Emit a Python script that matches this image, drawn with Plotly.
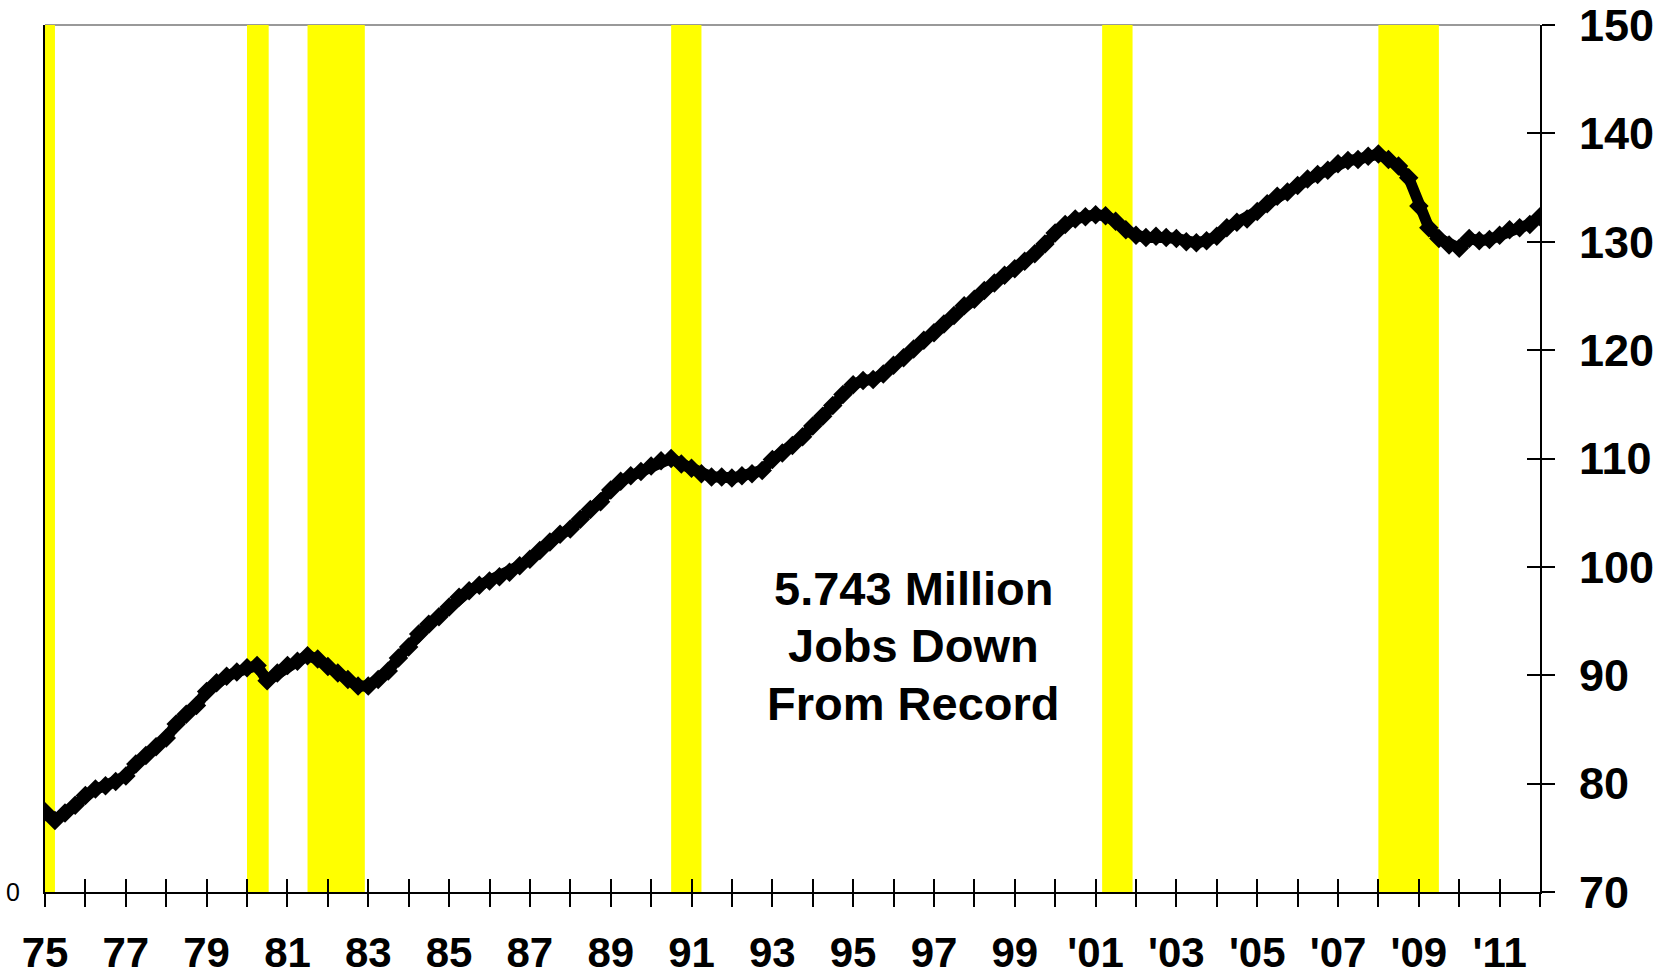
import plotly.graph_objects as go
import pandas as pd

# Nonfarm payrolls (millions), first month of each quarter, 1975Q1 .. 2012Q1
jobs_70s = [77.4, 76.6, 77.3, 78.0,   # 1975
            78.9, 79.5, 79.8, 80.2,   # 1976
            80.7, 81.8, 82.6, 83.4,   # 1977
            84.2, 85.5, 86.4, 87.2,   # 1978
            88.5, 89.3, 89.9, 90.3]   # 1979
jobs_80s = [90.7, 90.9, 89.5, 90.2,   # 1980
            90.9, 91.3, 91.8, 91.5,   # 1981
            90.8, 90.2, 89.6, 89.0,   # 1982
            89.0, 89.6, 90.4, 91.6,   # 1983
            92.6, 93.8, 94.7, 95.4,   # 1984
            96.3, 97.2, 97.8, 98.3,   # 1985
            98.7, 99.1, 99.5, 100.1,  # 1986
            100.7, 101.5, 102.3, 103.0,  # 1987
            103.5, 104.4, 105.3, 106.0,  # 1988
            107.1, 107.9, 108.4, 108.8]  # 1989
jobs_90s = [109.3, 109.8, 110.0, 109.5,  # 1990
            109.1, 108.6, 108.3, 108.3,  # 1991
            108.2, 108.4, 108.6, 108.9,  # 1992
            109.9, 110.5, 111.2, 112.0,  # 1993
            113.0, 113.9, 114.9, 115.9,  # 1994
            116.8, 117.2, 117.3, 117.8,  # 1995
            118.6, 119.3, 120.1, 120.9,  # 1996
            121.6, 122.4, 123.2, 124.1,  # 1997
            124.7, 125.5, 126.2, 126.9,  # 1998
            127.5, 128.2, 128.9, 129.8]  # 1999
jobs_00s = [130.8, 131.6, 132.1, 132.3,  # 2000
            132.5, 132.4, 131.9, 131.1,  # 2001
            130.6, 130.4, 130.5, 130.4,  # 2002
            130.3, 130.0, 129.9, 130.1,  # 2003
            130.5, 131.3, 131.8, 132.1,  # 2004
            132.8, 133.5, 134.2, 134.6,  # 2005
            135.2, 135.8, 136.2, 136.6,  # 2006
            137.2, 137.5, 137.6, 137.9,  # 2007
            138.1, 137.6, 137.0, 135.9,  # 2008
            133.3, 131.3, 130.3, 129.7]  # 2009
jobs_10s = [129.4, 130.3, 130.1, 130.2,  # 2010
            130.6, 131.1, 131.3, 131.6,  # 2011
            132.3]                       # 2012

jobs = jobs_70s + jobs_80s + jobs_90s + jobs_00s + jobs_10s
dates = pd.date_range("1975-01-01", periods=len(jobs), freq="QS")

# recession shading (start, end)
rec_start = ["1975-01-01", "1980-01-01", "1981-07-01", "1990-07-01", "2001-03-01", "2008-01-01"]
rec_end = ["1975-04-01", "1980-07-15", "1982-12-01", "1991-04-01", "2001-12-01", "2009-07-01"]

note_lines = ["5.743 Million", "Jobs Down", "From Record"]
note_y = [98.0, 92.7, 87.35]

years = list(range(1975, 2013))
tick_vals = ["%d-01-01" % y for y in years]
tick_text = []
for y in years:
    if y % 2 == 1:
        tick_text.append(str(y)[2:] if y < 2000 else "'" + str(y)[2:])
    else:
        tick_text.append("")

font_fam = "Arial, Liberation Sans, sans-serif"

fig = go.Figure()

fig.add_trace(go.Scatter(
    x=dates, y=jobs, mode="lines+markers",
    line=dict(color="black", width=11),
    marker=dict(symbol="diamond", size=15, color="black"),
    showlegend=False, xaxis="x", yaxis="y"))

# dummy traces so the overlay axes are drawn
fig.add_trace(go.Scatter(x=[], y=[], xaxis="x2", yaxis="y2", showlegend=False, hoverinfo="skip"))
fig.add_trace(go.Scatter(x=[], y=[], xaxis="x", yaxis="y3", showlegend=False, hoverinfo="skip"))

shapes = [dict(type="line", xref="paper", yref="paper", x0=0, x1=1, y0=1, y1=1,
               line=dict(color="#999999", width=2), layer="below")]
for s, e in zip(rec_start, rec_end):
    shapes.append(dict(type="rect", xref="x", yref="paper", x0=s, x1=e, y0=0, y1=1,
                       fillcolor="#FFFF00", line=dict(width=0), layer="below"))

annotations = []
for txt, yy in zip(note_lines, note_y):
    annotations.append(dict(x="1996-07-01", y=yy, xref="x", yref="y",
                            text="<b>" + txt + "</b>", showarrow=False,
                            font=dict(size=47, family=font_fam, color="black")))

xr = ["1975-01-01", "2012-01-01"]

fig.update_layout(
    width=1674, height=976,
    margin=dict(l=45, r=134, t=25, b=84, autoexpand=False),
    paper_bgcolor="white", plot_bgcolor="white",
    font=dict(family=font_fam, color="black"),
    shapes=shapes,
    annotations=annotations,
    xaxis=dict(type="date", range=xr, tickvals=tick_vals, ticktext=tick_text,
               ticks="outside", ticklen=13, tickwidth=2, tickcolor="black",
               showline=True, linecolor="black", linewidth=2, showgrid=False, zeroline=False,
               tickfont=dict(size=42, family=font_fam, weight="bold"),
               ticklabelstandoff=10, automargin=False),
    xaxis2=dict(type="date", range=xr, overlaying="x", anchor="y", tickvals=tick_vals,
                ticks="inside", ticklen=13, tickwidth=2, tickcolor="black",
                showticklabels=False, showline=False, showgrid=False, zeroline=False,
                automargin=False),
    yaxis=dict(range=[70, 150], dtick=10, side="right", anchor="x",
               ticks="outside", ticklen=13, tickwidth=2, tickcolor="black",
               showline=True, linecolor="black", linewidth=2, showgrid=False, zeroline=False,
               tickfont=dict(size=45, family=font_fam, weight="bold"),
               ticklabelstandoff=15, ticklabeloverflow="allow", automargin=False),
    yaxis2=dict(range=[70, 150], dtick=10, side="right", overlaying="y", anchor="x2",
                ticks="inside", ticklen=13, tickwidth=2, tickcolor="black",
                showticklabels=False, showline=False, showgrid=False, zeroline=False,
                automargin=False),
    yaxis3=dict(range=[0, 10], tickvals=[0], ticktext=["0"], side="left", overlaying="y",
                anchor="x", ticks="", showline=True, linecolor="black", linewidth=2,
                showgrid=False, zeroline=False, automargin=False,
                tickfont=dict(size=25, family=font_fam), ticklabelstandoff=18),
)

# drop the default 8px page margin so the figure fills the window
fig.write_html("out.html", config={"displayModeBar": False},
               post_script="document.body.style.margin='0';")
